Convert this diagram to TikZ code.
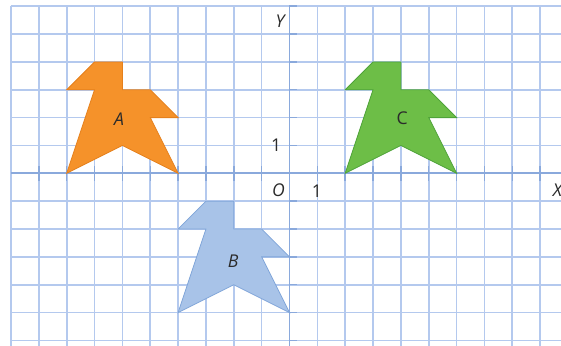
\documentclass[tikz,border=0pt]{standalone}
\usepackage{fontspec}
\setmainfont{Open Sans}
\definecolor{gridc}{HTML}{B4C9EE}
\definecolor{axisc}{HTML}{8AA9DC}
\definecolor{txt}{HTML}{2B2B2B}
\definecolor{orfill}{HTML}{F5922A}
\definecolor{oredge}{HTML}{E5801C}
\definecolor{grfill}{HTML}{6DBE47}
\definecolor{gredge}{HTML}{4FA33A}
\definecolor{blfill}{HTML}{A8C3E8}
\definecolor{bledge}{HTML}{80A5D9}
\tikzset{
  gridline/.style={gridc, line width=1.7pt},
  axisline/.style={axisc, line width=1.8pt},
  tickline/.style={axisc, line width=1.5pt},
  shapeA/.style={fill=orfill, draw=oredge, line width=0.8pt, line join=miter},
  shapeB/.style={fill=blfill, draw=bledge, line width=0.8pt, line join=miter},
  shapeC/.style={fill=grfill, draw=gredge, line width=0.8pt, line join=miter},
  lbl/.style={text=txt, font=\fontsize{18}{18}\selectfont, inner sep=0pt},
}
\begin{document}
\begin{tikzpicture}
\useasboundingbox (-10.395,-6.165) rectangle (9.749,6.223);
\fill[white] (-10.395,-6.165) rectangle (9.749,6.223);
% grid
\begin{scope}
\clip (-10.05,-6.165) rectangle (9.749,6.05);
\foreach \x in {-10,...,9} \draw[gridline] (\x,-6.3) -- (\x,6);
\foreach \y in {-6,...,6} \draw[gridline] (-10,\y) -- (9.9,\y);
\end{scope}
% axes
\draw[axisline] (-10,0) -- (9.9,0);
\draw[axisline] (0,-6.3) -- (0,6);
\foreach \x in {-9,...,9} \draw[tickline] (\x,-0.26) -- (\x,0.26);
\foreach \y in {-6,...,6} \draw[tickline] (0,\y) -- (0.27,\y);
% shapes
\draw[shapeA] (-7,4) -- (-6,4) -- (-6,3) -- (-5,3) -- (-4,2) -- (-5,2) -- (-4,0) -- (-6,1) -- (-8,0) -- (-7,3) -- (-8,3) -- cycle;
\draw[shapeB] (-3,-1) -- (-2,-1) -- (-2,-2) -- (-1,-2) -- (0,-3) -- (-1,-3) -- (0,-5) -- (-2,-4) -- (-4,-5) -- (-3,-2) -- (-4,-2) -- cycle;
\draw[shapeC] (3,4) -- (4,4) -- (4,3) -- (5,3) -- (6,2) -- (5,2) -- (6,0) -- (4,1) -- (2,0) -- (3,3) -- (2,3) -- cycle;
% labels
\node[lbl] (la) at (-6.12,1.95) {\itshape A};
\node[lbl] (lb) at (-2.02,-3.15) {\itshape B};
\node[lbl] (lc) at (4.05,1.97) {C};
\node[lbl] (ly) at (-0.34,5.46) {\itshape Y};
\node[lbl] (lx) at (9.62,-0.62) {\itshape X};
\node[lbl] (lo) at (-0.4,-0.6) {\itshape O};
\node[lbl] (l1x) at (0.98,-0.66) {1};
\node[lbl] (l1y) at (-0.48,1.02) {1};
\end{tikzpicture}
\end{document}
